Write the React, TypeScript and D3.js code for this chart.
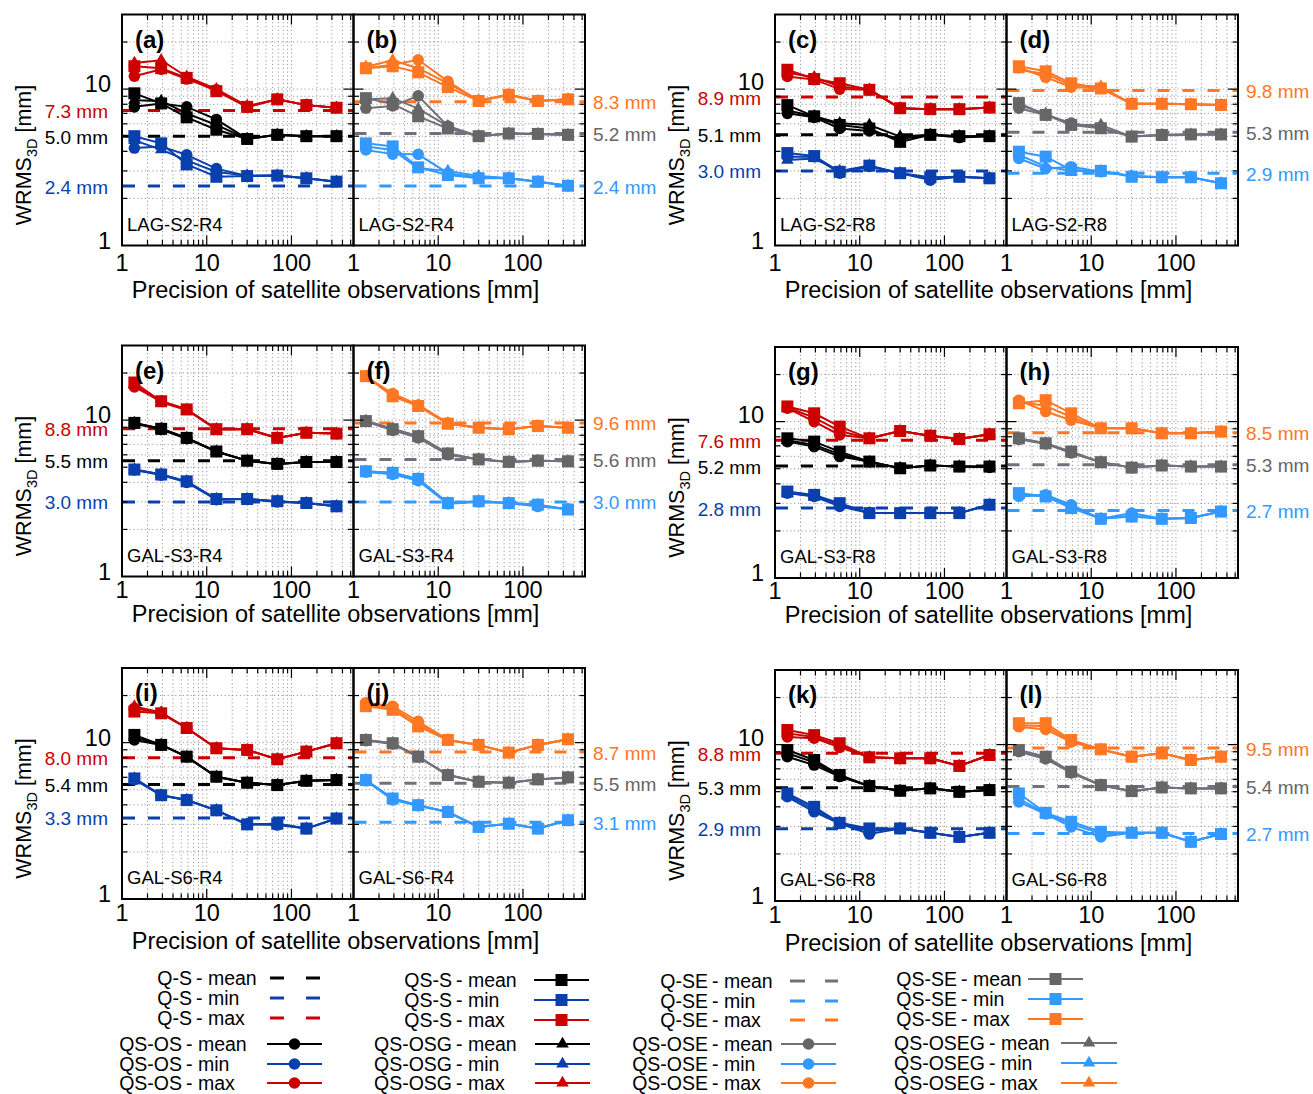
import * as d3 from 'd3';

// precision of satellite observations [mm], x positions of every point
const PRECISION = [1.4, 2.9, 5.8, 13, 30, 68, 150, 340];
const X_TICK_LABELS = [1, 10, 100];
const Y_TICK_LABELS = [1, 10];

const PANEL_IDS = ['a', 'b', 'c', 'd', 'e', 'f', 'g', 'h', 'i', 'j', 'k', 'l'];
const DATASETS = [
  'LAG-S2-R4', 'LAG-S2-R4', 'LAG-S2-R8', 'LAG-S2-R8',
  'GAL-S3-R4', 'GAL-S3-R4', 'GAL-S3-R8', 'GAL-S3-R8',
  'GAL-S6-R4', 'GAL-S6-R4', 'GAL-S6-R8', 'GAL-S6-R8',
];

// Q-S (left panels) / Q-SE (right panels) levels, panels a..l
const Q_MEAN = [5.0, 5.2, 5.1, 5.3, 5.5, 5.6, 5.2, 5.3, 5.4, 5.5, 5.3, 5.4];
const Q_MIN = [2.4, 2.4, 3.0, 2.9, 3.0, 3.0, 2.8, 2.7, 3.3, 3.1, 2.9, 2.7];
const Q_MAX = [7.3, 8.3, 8.9, 9.8, 8.8, 9.6, 7.6, 8.5, 8.0, 8.7, 8.8, 9.5];

// rows: [squares QS-S/QS-SE, circles QS-OS/QS-OSE, triangles QS-OSG/QS-OSEG]
const a_max = [[14.0, 13.6, 11.8, 9.7, 7.7, 8.6, 7.9, 7.6], [12.1, 13.4, 11.6, 9.9, 7.7, 8.6, 7.9, 7.6], [14.7, 15.3, 12.0, 10.0, 7.8, 8.6, 7.9, 7.6]];
const a_mean = [[9.4, 8.1, 6.6, 5.5, 4.8, 5.1, 5.0, 5.0], [7.7, 8.1, 7.7, 6.4, 4.8, 5.1, 5.0, 5.0], [8.5, 8.4, 7.0, 5.9, 4.8, 5.1, 5.0, 5.0]];
const a_min = [[5.0, 4.5, 3.3, 2.75, 2.78, 2.8, 2.69, 2.56], [4.2, 4.3, 3.8, 3.1, 2.78, 2.8, 2.69, 2.56], [4.7, 4.1, 3.5, 2.95, 2.8, 2.8, 2.69, 2.56]];

const b_max = [[13.6, 14.0, 12.8, 10.3, 8.4, 9.2, 8.4, 8.6], [13.6, 14.3, 15.4, 11.2, 8.4, 9.2, 8.4, 8.6], [13.9, 15.3, 13.6, 10.9, 8.5, 9.2, 8.4, 8.6]];
const b_mean = [[8.75, 8.05, 6.7, 5.6, 5.0, 5.2, 5.17, 5.1], [7.55, 7.8, 9.05, 5.8, 5.0, 5.2, 5.17, 5.1], [8.6, 8.75, 7.5, 5.8, 5.0, 5.2, 5.17, 5.1]];
const b_min = [[4.5, 4.3, 3.16, 2.82, 2.69, 2.69, 2.56, 2.41], [4.08, 3.84, 3.83, 2.9, 2.72, 2.69, 2.56, 2.41], [4.3, 4.08, 3.12, 3.0, 2.78, 2.7, 2.56, 2.41]];

const c_max = [[13.3, 11.6, 10.9, 9.9, 7.55, 7.44, 7.44, 7.62], [12.05, 11.5, 10.0, 9.9, 7.55, 7.44, 7.44, 7.62], [12.7, 11.9, 10.4, 9.9, 7.55, 7.44, 7.44, 7.62]];
const c_mean = [[7.9, 6.7, 5.9, 5.6, 4.6, 5.1, 5.0, 5.0], [7.0, 6.6, 5.6, 5.4, 4.8, 5.1, 4.9, 5.0], [7.3, 6.7, 6.05, 5.9, 4.97, 5.1, 5.0, 5.0]];
const c_min = [[3.9, 3.73, 2.96, 3.24, 2.9, 2.73, 2.75, 2.69], [3.7, 3.7, 2.9, 3.2, 2.9, 2.62, 2.75, 2.69], [3.52, 3.6, 3.0, 3.24, 2.9, 2.7, 2.75, 2.69]];

const d_max = [[14.0, 13.0, 10.9, 10.1, 8.06, 8.06, 8.0, 7.92], [13.7, 11.9, 10.3, 10.1, 8.06, 8.06, 8.0, 7.92], [13.3, 12.5, 10.6, 10.4, 8.06, 8.06, 8.0, 7.92]];
const d_mean = [[8.14, 6.84, 5.9, 5.62, 4.97, 5.09, 5.13, 5.13], [7.55, 6.84, 6.07, 5.62, 4.97, 5.09, 5.13, 5.13], [7.9, 6.97, 5.9, 5.9, 4.97, 5.09, 5.13, 5.13]];
const d_min = [[3.98, 3.7, 3.04, 3.0, 2.75, 2.73, 2.73, 2.5], [3.6, 3.1, 3.19, 2.96, 2.78, 2.73, 2.73, 2.5], [3.8, 3.2, 3.0, 3.0, 2.78, 2.73, 2.73, 2.5]];

const e_max = [[17.4, 13.2, 11.7, 8.75, 8.75, 7.7, 8.3, 8.2], [16.3, 13.2, 11.7, 8.75, 8.75, 7.7, 8.3, 8.2], [16.8, 13.0, 11.6, 8.75, 8.75, 7.7, 8.3, 8.2]];
const e_mean = [[9.6, 8.8, 7.7, 6.3, 5.5, 5.25, 5.4, 5.4], [9.5, 8.7, 7.6, 6.3, 5.5, 5.25, 5.4, 5.4], [9.6, 8.8, 7.7, 6.3, 5.5, 5.25, 5.4, 5.4]];
const e_min = [[4.83, 4.49, 4.06, 3.13, 3.13, 3.03, 2.95, 2.81], [4.8, 4.45, 4.0, 3.1, 3.13, 3.0, 2.95, 2.81], [4.83, 4.49, 4.06, 3.13, 3.13, 3.03, 2.95, 2.81]];

const f_max = [[19.1, 14.2, 12.3, 9.48, 8.94, 8.75, 9.16, 8.94], [19.0, 14.8, 12.5, 9.6, 8.94, 8.75, 9.16, 8.94], [19.1, 14.5, 12.4, 9.5, 8.94, 8.75, 9.16, 8.94]];
const f_mean = [[9.86, 8.75, 7.89, 6.12, 5.61, 5.41, 5.5, 5.45], [9.8, 8.6, 7.7, 6.0, 5.6, 5.41, 5.5, 5.45], [9.9, 8.8, 7.9, 6.1, 5.6, 5.4, 5.5, 5.45]];
const f_min = [[4.71, 4.6, 4.21, 2.95, 3.03, 2.95, 2.88, 2.68], [4.65, 4.5, 4.1, 2.92, 3.0, 2.95, 2.8, 2.7], [4.7, 4.6, 4.2, 2.95, 3.03, 2.95, 2.88, 2.68]];

const g_max = [[12.5, 11.3, 9.29, 7.82, 8.71, 8.13, 7.74, 8.3], [12.2, 10.0, 8.22, 7.82, 8.71, 8.13, 7.74, 8.3], [12.3, 10.6, 8.7, 7.8, 8.7, 8.1, 7.74, 8.3]];
const g_mean = [[7.82, 7.45, 6.43, 5.55, 5.03, 5.24, 5.16, 5.16], [7.45, 6.92, 5.98, 5.55, 5.03, 5.24, 5.16, 5.1], [7.6, 7.1, 6.2, 5.5, 5.03, 5.24, 5.16, 5.16]];
const g_min = [[3.57, 3.4, 3.01, 2.6, 2.6, 2.6, 2.6, 2.94], [3.49, 3.32, 2.87, 2.6, 2.6, 2.6, 2.6, 2.94], [3.5, 3.35, 2.95, 2.6, 2.6, 2.6, 2.6, 2.94]];

const h_max = [[13.1, 13.7, 11.3, 9.06, 9.06, 8.42, 8.42, 8.63], [13.7, 11.6, 10.2, 9.06, 9.06, 8.42, 8.42, 8.63], [13.4, 12.6, 10.7, 9.06, 9.06, 8.42, 8.42, 8.63]];
const h_mean = [[7.82, 7.27, 6.43, 5.5, 5.08, 5.24, 5.16, 5.16], [7.7, 7.2, 6.3, 5.5, 5.08, 5.24, 5.16, 5.16], [7.8, 7.25, 6.4, 5.5, 5.08, 5.24, 5.16, 5.16]];
const h_min = [[3.49, 3.32, 2.8, 2.39, 2.47, 2.39, 2.42, 2.66], [3.32, 3.4, 2.94, 2.39, 2.6, 2.39, 2.42, 2.66], [3.4, 3.35, 2.85, 2.39, 2.5, 2.39, 2.42, 2.66]];

const i_max = [[15.8, 15.4, 12.4, 9.2, 8.98, 7.82, 8.76, 9.91], [16.6, 15.4, 12.4, 9.2, 8.98, 7.82, 8.76, 9.91], [17.0, 15.6, 12.4, 9.2, 8.98, 7.82, 8.76, 9.91]];
const i_mean = [[11.2, 9.67, 8.13, 6.05, 5.54, 5.35, 5.7, 5.76], [10.4, 9.67, 8.13, 6.05, 5.54, 5.35, 5.7, 5.76], [10.8, 9.7, 8.1, 6.05, 5.54, 5.35, 5.7, 5.76]];
const i_min = [[5.9, 4.61, 4.29, 3.69, 3.0, 3.03, 2.82, 3.27], [5.8, 4.61, 4.29, 3.69, 3.0, 2.97, 2.82, 3.27], [5.9, 4.6, 4.3, 3.7, 3.0, 3.03, 2.82, 3.27]];

const j_max = [[17.1, 16.2, 12.7, 10.4, 9.67, 8.63, 9.67, 10.5], [18.0, 17.1, 13.7, 10.4, 9.67, 8.63, 9.67, 10.5], [17.5, 16.6, 13.2, 10.4, 9.67, 8.63, 9.67, 10.5]];
const j_mean = [[10.4, 9.91, 8.13, 6.2, 5.62, 5.54, 5.82, 5.99], [10.3, 9.8, 8.1, 6.2, 5.6, 5.54, 5.82, 5.99], [10.4, 9.91, 8.13, 6.2, 5.62, 5.54, 5.82, 5.99]];
const j_min = [[5.76, 4.39, 3.98, 3.6, 2.89, 3.03, 2.82, 3.19], [5.7, 4.3, 3.95, 3.6, 2.89, 3.03, 2.82, 3.19], [5.76, 4.39, 3.98, 3.6, 2.89, 3.03, 2.82, 3.19]];

const k_max = [[12.4, 11.5, 10.2, 8.29, 8.17, 8.17, 7.3, 8.58], [11.2, 11.0, 9.6, 8.29, 8.17, 8.17, 7.3, 8.58], [11.8, 11.2, 9.9, 8.29, 8.17, 8.17, 7.3, 8.58]];
const k_mean = [[9.23, 7.97, 6.39, 5.43, 5.07, 5.25, 4.99, 5.12], [8.37, 7.4, 6.25, 5.43, 5.07, 5.25, 4.99, 5.12], [8.8, 7.7, 6.3, 5.43, 5.07, 5.25, 4.99, 5.12]];
const k_min = [[4.87, 4.0, 3.16, 2.91, 2.91, 2.73, 2.57, 2.73], [4.64, 3.72, 3.13, 2.68, 2.91, 2.73, 2.57, 2.73], [4.75, 3.85, 3.15, 2.8, 2.91, 2.73, 2.57, 2.73]];

const l_max = [[13.7, 13.7, 10.7, 9.33, 8.37, 8.8, 7.97, 8.37], [13.0, 12.5, 10.4, 9.3, 8.37, 8.8, 7.97, 8.37], [13.3, 13.1, 10.5, 9.3, 8.37, 8.8, 7.97, 8.37]];
const l_mean = [[9.23, 8.37, 6.71, 5.51, 5.04, 5.32, 5.25, 5.25], [9.0, 8.1, 6.6, 5.5, 5.04, 5.32, 5.25, 5.25], [9.1, 8.2, 6.65, 5.5, 5.04, 5.32, 5.25, 5.25]];
const l_min = [[4.87, 3.66, 3.21, 2.77, 2.73, 2.73, 2.39, 2.68], [4.3, 3.6, 2.98, 2.57, 2.73, 2.73, 2.39, 2.68], [4.5, 3.63, 3.1, 2.7, 2.73, 2.73, 2.39, 2.68]];

const SERIES_MEAN = [a_mean, b_mean, c_mean, d_mean, e_mean, f_mean, g_mean, h_mean, i_mean, j_mean, k_mean, l_mean];
const SERIES_MIN = [a_min, b_min, c_min, d_min, e_min, f_min, g_min, h_min, i_min, j_min, k_min, l_min];
const SERIES_MAX = [a_max, b_max, c_max, d_max, e_max, f_max, g_max, h_max, i_max, j_max, k_max, l_max];

const STATS = ['mean', 'min', 'max'] as const;

// layout
const FONT = '"Liberation Sans", Arial, Helvetica, sans-serif';
const PW = 231.5;
const PH = 231;
const PAIR_LEFT = [122, 775];
const ROW_TOP = [[14.5, 345.5, 668], [14.5, 347, 670]];
const TICK_DY = [25, 21, 22];
const TITLE_DY = [52, 45, 50];

const COLORS = [
  { mean: '#000000', min: '#0a3fae', max: '#cc0000', meanLine: '#000000', meanText: '#000000' },
  { mean: '#666666', min: '#3399ff', max: '#ff7722', meanLine: '#70707e', meanText: '#666666' },
];

type Marker = 'square' | 'circle' | 'triangle';
const MARKERS: Marker[] = ['square', 'circle', 'triangle'];

function MarkerShape({ kind, cx, cy, color }: { kind: Marker; cx: number; cy: number; color: string }) {
  if (kind === 'square') return <rect x={cx - 6} y={cy - 6} width={12} height={12} fill={color} />;
  if (kind === 'circle') return <circle cx={cx} cy={cy} r={5.8} fill={color} />;
  const tri = d3.symbol().type(d3.symbolTriangle).size(68)()!;
  return <path d={tri} transform={`translate(${cx},${cy})`} fill={color} />;
}

function Panel({ idx }: { idx: number }) {
  const row = Math.floor(idx / 4);
  const col = Math.floor((idx % 4) / 2);
  const side = idx % 2;
  const left = PAIR_LEFT[col] + side * PW;
  const top = ROW_TOP[col][row];
  const bottom = top + PH;
  const x = d3.scaleLog().domain([1, 540]).range([left, left + PW]);
  const y = d3.scaleLog().domain([1, 30]).range([bottom, top]);
  const colors = COLORS[side];
  const isMajor = (v: number) => Math.abs(Math.log10(v) - Math.round(Math.log10(v))) < 1e-9;

  const line = d3
    .line<number>()
    .x((_, i) => x(PRECISION[i]))
    .y((d) => y(d));

  const xt = x.ticks().filter((t) => t > 1 && t < 540);
  const yt = y.ticks().filter((t) => t > 1 && t < 30);

  const qLevels = [
    { v: Q_MEAN[idx], color: colors.meanLine, text: colors.meanText },
    { v: Q_MIN[idx], color: colors.min, text: colors.min },
    { v: Q_MAX[idx], color: colors.max, text: colors.max },
  ];
  const groups = [SERIES_MEAN[idx], SERIES_MIN[idx], SERIES_MAX[idx]];
  const drawOrder = [1, 2, 0]; // circles, triangles, squares on top

  return (
    <g>
      {/* grid */}
      <g stroke="#9a9a9a" strokeWidth={1} strokeDasharray="1.2 2.6">
        {xt.map((t) => (
          <line key={`gx${t}`} x1={x(t)} x2={x(t)} y1={top} y2={bottom} />
        ))}
        {yt.map((t) => (
          <line key={`gy${t}`} x1={left} x2={left + PW} y1={y(t)} y2={y(t)} />
        ))}
      </g>

      {/* Q levels */}
      {qLevels.map((q, k) => (
        <line
          key={`q${k}`}
          x1={left + 1}
          x2={left + PW}
          y1={y(q.v)}
          y2={y(q.v)}
          stroke={q.color}
          strokeWidth={3}
          strokeDasharray="12 13"
        />
      ))}

      {/* series */}
      {[0, 1, 2].map((s) => {
        const color = s === 0 ? colors.meanLine : colors[STATS[s]];
        const mColor = colors[STATS[s]];
        return (
          <g key={`s${s}`}>
            {drawOrder.map((m) => (
              <g key={`m${m}`}>
                <path d={line(groups[s][m])!} fill="none" stroke={color} strokeWidth={2} />
                {groups[s][m].map((v, i) => (
                  <MarkerShape key={i} kind={MARKERS[m]} cx={x(PRECISION[i])} cy={y(v)} color={mColor} />
                ))}
              </g>
            ))}
          </g>
        );
      })}

      {/* ticks */}
      <g stroke="#000" strokeWidth={1.2}>
        {xt.map((t) => {
          const len = isMajor(t) ? 10 : 5.5;
          return (
            <g key={`tx${t}`}>
              <line x1={x(t)} x2={x(t)} y1={top} y2={top + len} />
              <line x1={x(t)} x2={x(t)} y1={bottom} y2={bottom - len} />
            </g>
          );
        })}
        {yt.map((t) => {
          const len = isMajor(t) ? 10 : 5.5;
          return (
            <g key={`ty${t}`}>
              <line x1={left} x2={left + len} y1={y(t)} y2={y(t)} />
              <line x1={left + PW} x2={left + PW - len} y1={y(t)} y2={y(t)} />
            </g>
          );
        })}
      </g>
      <rect x={left} y={top} width={PW} height={PH} fill="none" stroke="#000" strokeWidth={2} />

      {/* x tick labels */}
      {X_TICK_LABELS.map((t) => (
        <text key={`xl${t}`} x={x(t)} y={bottom + TICK_DY[row]} textAnchor="middle" fontSize={23.5} fontFamily={FONT}>
          {t}
        </text>
      ))}

      {/* y tick labels only on the left panel of a pair */}
      {side === 0 &&
        Y_TICK_LABELS.map((t) => (
          <text
            key={`yl${t}`}
            x={left - 11}
            y={y(t) + (t === 1 ? 3 : col === 1 ? 1 : 3)}
            textAnchor="end"
            fontSize={23.5}
            fontFamily={FONT}
          >
            {t}
          </text>
        ))}

      {/* Q level values */}
      {qLevels.map((q, k) => (
        <text
          key={`qt${k}`}
          x={side === 0 ? left - 14 : left + PW + 8}
          y={y(q.v) + 7.5}
          textAnchor={side === 0 ? 'end' : 'start'}
          fontSize={19}
          fill={q.text}
          fontFamily={FONT}
        >
          {q.v.toFixed(1)} mm
        </text>
      ))}

      <text x={left + 13} y={top + 33} fontSize={24} fontWeight="bold" fontFamily={FONT}>
        ({PANEL_IDS[idx]})
      </text>
      <text x={left + 5} y={bottom - 15} fontSize={18.5} fontFamily={FONT}>
        {DATASETS[idx]}
      </text>
    </g>
  );
}

function AxisTitles({ row, col }: { row: number; col: number }) {
  const left = PAIR_LEFT[col];
  const top = ROW_TOP[col][row];
  const bottom = top + PH;
  const cy = top + PH / 2 + 25;
  return (
    <g fontFamily={FONT}>
      <text x={left + PW - 18} y={bottom + TITLE_DY[row]} textAnchor="middle" fontSize={23.5}>
        Precision of satellite observations [mm]
      </text>
      <text transform={`translate(${left - 91},${cy}) rotate(-90)`} textAnchor="middle" fontSize={21.5}>
        WRMS
        <tspan fontSize={14.5} dy={6}>3D</tspan>
        <tspan fontSize={21.5} dy={-6}> [mm]</tspan>
      </text>
    </g>
  );
}

const LEGEND = [
  { prefix: 'Q-S', side: 0, marker: null, dash: '14 22', textX: 192, x1: 270, x2: 320, ys: [978, 998, 1018] },
  { prefix: 'QS-OS', side: 0, marker: 'circle', dash: null, textX: 182, x1: 267, x2: 322, ys: [1044, 1064, 1083] },
  { prefix: 'QS-S', side: 0, marker: 'square', dash: null, textX: 452, x1: 534, x2: 589, ys: [980, 1000, 1020] },
  { prefix: 'QS-OSG', side: 0, marker: 'triangle', dash: null, textX: 452, x1: 535, x2: 590, ys: [1044, 1064, 1083] },
  { prefix: 'Q-SE', side: 1, marker: null, dash: '15 20', textX: 708, x1: 790, x2: 838, ys: [981, 1001, 1020] },
  { prefix: 'QS-OSE', side: 1, marker: 'circle', dash: null, textX: 708, x1: 781, x2: 836, ys: [1044, 1064, 1083] },
  { prefix: 'QS-SE', side: 1, marker: 'square', dash: null, textX: 957, x1: 1028, x2: 1083, ys: [979, 999, 1019] },
  { prefix: 'QS-OSEG', side: 1, marker: 'triangle', dash: null, textX: 985, x1: 1061, x2: 1117, ys: [1043, 1063, 1083] },
];

function Legend() {
  return (
    <g fontFamily={FONT} fontSize={19.5}>
      {LEGEND.map((g) =>
        STATS.map((stat, k) => {
          const c = COLORS[g.side];
          const lineColor = stat === 'mean' ? c.meanLine : c[stat];
          const yy = g.ys[k];
          return (
            <g key={`${g.prefix}-${stat}`}>
              <text x={g.textX} y={yy + 7} textAnchor="end">
                {g.prefix}
              </text>
              <text x={g.textX + 4} y={yy + 7}>
                - {stat}
              </text>
              {g.dash ? (
                <line x1={g.x1} x2={g.x2} y1={yy} y2={yy} stroke={lineColor} strokeWidth={3} strokeDasharray={g.dash} />
              ) : (
                <>
                  <line x1={g.x1} x2={g.x2} y1={yy} y2={yy} stroke={lineColor} strokeWidth={2} />
                  <MarkerShape kind={g.marker as Marker} cx={(g.x1 + g.x2) / 2} cy={yy} color={c[stat]} />
                </>
              )}
            </g>
          );
        })
      )}
    </g>
  );
}

export default function App() {
  return (
    <svg
      width={1313}
      height={1094}
      style={{ position: 'absolute', left: 0, top: 0, background: '#fff' }}
    >
      <rect width={1313} height={1094} fill="#fff" />
      {PANEL_IDS.map((_, i) => (
        <Panel key={i} idx={i} />
      ))}
      {[0, 1, 2].map((r) =>
        [0, 1].map((c) => <AxisTitles key={`${r}-${c}`} row={r} col={c} />)
      )}
      <Legend />
    </svg>
  );
}
